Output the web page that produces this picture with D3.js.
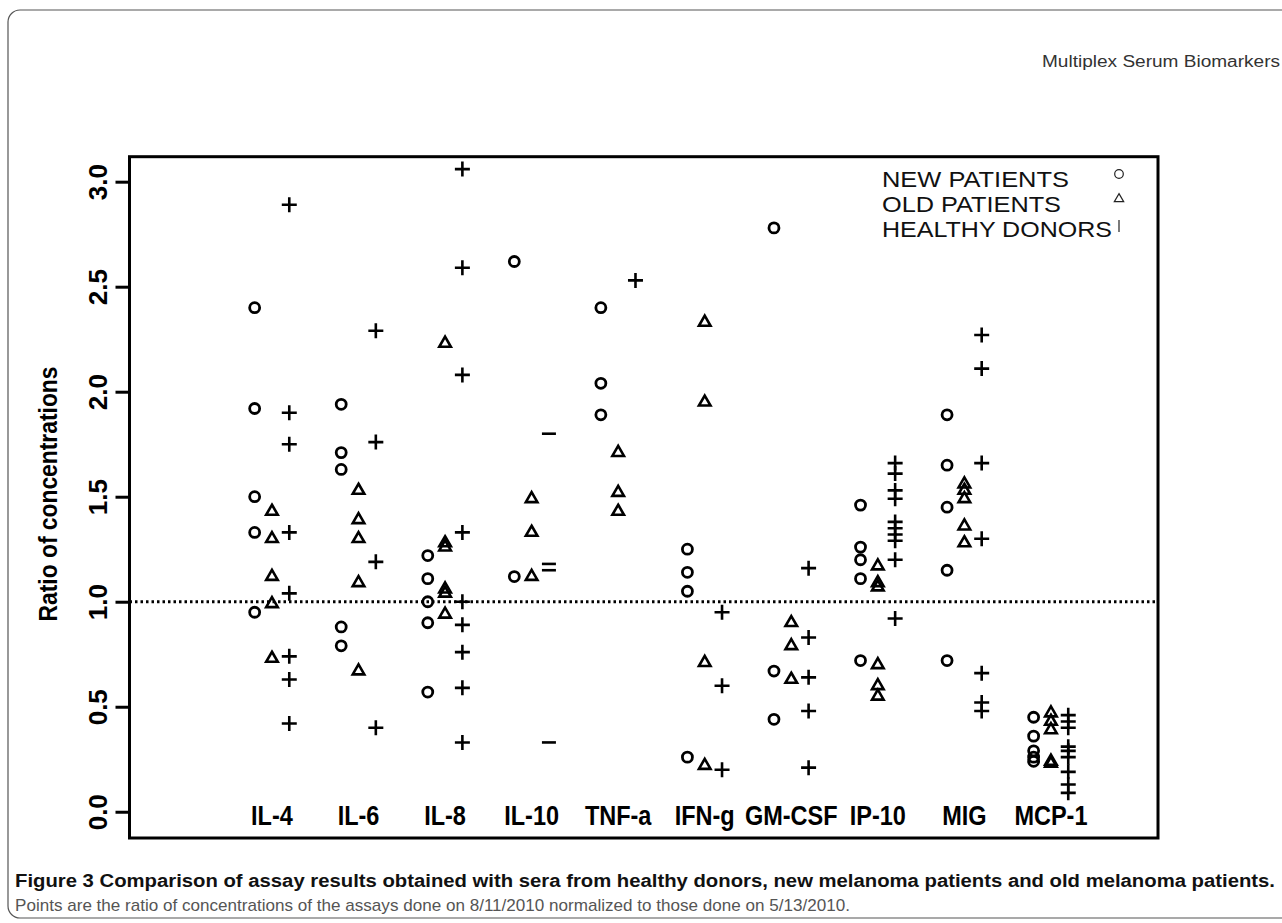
<!DOCTYPE html>
<html>
<head>
<meta charset="utf-8">
<script src="https://cdn.jsdelivr.net/npm/d3@7"></script>
<style>
  body { margin: 0; background: #fff; }
  svg { display: block; font-family: "Liberation Sans", Arial, sans-serif; }
</style>
</head>
<body>
<div id="chart"></div>
<script>
// categories and the three series (one small array of values per category)
const categories = ["IL-4", "IL-6", "IL-8", "IL-10", "TNF-a", "IFN-g", "GM-CSF", "IP-10", "MIG", "MCP-1"];

const newPatients = [
  [2.40, 1.92, 1.50, 1.33, 0.95],
  [1.94, 1.71, 1.63, 0.88, 0.79],
  [1.22, 1.11, 1.00, 0.90, 0.57],
  [2.62, 1.12],
  [2.40, 2.04, 1.89],
  [1.25, 1.14, 1.05, 0.26],
  [2.78, 0.67, 0.44],
  [1.46, 1.26, 1.20, 1.11, 0.72],
  [1.89, 1.65, 1.45, 1.15, 0.72],
  [0.45, 0.36, 0.29, 0.26, 0.24]
];

const oldPatients = [
  [1.43, 1.30, 1.12, 0.99, 0.73],
  [1.53, 1.39, 1.30, 1.09, 0.67],
  [2.23, 1.28, 1.26, 1.06, 1.04, 0.94],
  [1.49, 1.33, 1.12],
  [1.71, 1.52, 1.43],
  [2.33, 1.95, 0.71, 0.22],
  [0.90, 0.79, 0.63],
  [1.17, 1.09, 1.07, 0.70, 0.60, 0.55],
  [1.56, 1.53, 1.49, 1.36, 1.28],
  [0.47, 0.43, 0.39, 0.24, 0.23]
];

const healthyDonors = [
  [2.89, 1.90, 1.75, 1.33, 1.04, 0.74, 0.63, 0.42],
  [2.29, 1.76, 1.19, 0.40],
  [3.06, 2.59, 2.08, 1.33, 1.00, 0.89, 0.76, 0.59, 0.33],
  [1.80, 1.18, 1.15, 0.33],
  [2.53],
  [0.95, 0.60, 0.20],
  [1.16, 0.83, 0.64, 0.48, 0.21],
  [1.66, 1.61, 1.53, 1.49, 1.38, 1.35, 1.32, 1.29, 1.20, 0.92],
  [2.27, 2.11, 1.66, 1.30, 0.66, 0.52, 0.48],
  [0.46, 0.43, 0.40, 0.31, 0.29, 0.26, 0.19, 0.13, 0.09]
];

const yTicks = [0, 0.5, 1, 1.5, 2, 2.5, 3];
const legendLabels = ["NEW PATIENTS", "OLD PATIENTS", "HEALTHY DONORS"];

const W = 1282, H = 923;
const plot = {left: 129.5, right: 1158, top: 156.7, bottom: 838};

const svg = d3.select("#chart")
  .append("svg")
    .attr("width", W)
    .attr("height", H);

// page frame + running header
svg.append("rect")
  .attr("x", 8).attr("y", 10)
  .attr("width", 1320).attr("height", 908)
  .attr("rx", 12)
  .attr("fill", "none")
  .attr("stroke", "#555")
  .attr("stroke-width", 1.2);

svg.append("text")
  .attr("x", 1280).attr("y", 67)
  .attr("text-anchor", "end")
  .attr("font-size", 16)
  .attr("fill", "#333")
  .attr("textLength", 238)
  .attr("lengthAdjust", "spacingAndGlyphs")
  .text("Multiplex Serum Biomarkers");

// scales: categories sit at 1..10
const x = d3.scaleLinear()
  .domain([-0.646, 11.237])
  .range([plot.left, plot.right]);

const y = d3.scaleLinear()
  .domain([-0.125, 3.119])
  .range([plot.bottom, plot.top]);

// y axis
const yAxis = svg.append("g")
  .attr("transform", `translate(${plot.left},0)`)
  .call(d3.axisLeft(y).tickValues(yTicks).tickSize(14).tickFormat(d3.format(".1f")));
yAxis.select(".domain").remove();
yAxis.selectAll(".tick line").attr("stroke", "#000").attr("stroke-width", 3);
yAxis.selectAll(".tick text")
  .attr("transform", "rotate(-90)")
  .attr("x", 0).attr("y", -22.5).attr("dy", 0)
  .attr("text-anchor", "middle")
  .attr("font-size", 26)
  .attr("font-weight", "bold")
  .attr("fill", "#000")
  .attr("font-family", "Liberation Sans, Arial, sans-serif");

// y axis title
svg.append("text")
  .attr("transform", `translate(57,${494}) rotate(-90)`)
  .attr("text-anchor", "middle")
  .attr("font-size", 26)
  .attr("font-weight", "bold")
  .attr("textLength", 255)
  .attr("lengthAdjust", "spacingAndGlyphs")
  .text("Ratio of concentrations");

// reference line at ratio 1
svg.append("line")
  .attr("x1", plot.left).attr("x2", plot.right)
  .attr("y1", y(1)).attr("y2", y(1))
  .attr("stroke", "#000")
  .attr("stroke-width", 3)
  .attr("stroke-dasharray", "2.5,3");

// category labels inside the plot
svg.append("g").selectAll("text")
  .data(categories)
  .join("text")
    .attr("x", (d, i) => x(i + 1))
    .attr("y", 825)
    .attr("text-anchor", "middle")
    .attr("font-size", 27)
    .attr("font-weight", "bold")
    .text(d => d)
    .each(function() {
      const len = this.getComputedTextLength();
      d3.select(this).attr("textLength", len * 0.87).attr("lengthAdjust", "spacingAndGlyphs");
    });

// flatten series into points
function points(series, offset) {
  const out = [];
  series.forEach((vals, i) => vals.forEach(v => out.push({cat: categories[i], i: i, v: v, off: offset})));
  return out;
}

const marks = svg.append("g").attr("fill", "none").attr("stroke", "#000");

// new patients: circles
marks.selectAll("circle.new")
  .data(points(newPatients, -0.2))
  .join("circle")
    .attr("class", "new")
    .attr("cx", d => x(d.i + 1 + d.off))
    .attr("cy", d => y(d.v))
    .attr("r", 5)
    .attr("stroke-width", 2.8);

// old patients: triangles
marks.selectAll("path.old")
  .data(points(oldPatients, 0))
  .join("path")
    .attr("class", "old")
    .attr("transform", d => `translate(${x(d.i + 1 + d.off)},${y(d.v)})`)
    .attr("d", d3.symbol(d3.symbolTriangle, 58))
    .attr("stroke-width", 2.6);

// healthy donors: plus signs (IL-10 ones came out as bare dashes in the figure)
marks.selectAll("path.healthy")
  .data(points(healthyDonors, 0.2))
  .join("path")
    .attr("class", "healthy")
    .attr("transform", d => `translate(${x(d.i + 1 + d.off)},${y(d.v)})`)
    .attr("d", d => d.cat === "IL-10" ? "M-7,0H7" : "M-7.5,0H7.5M0,-7.5V7.5")
    .attr("stroke-width", 2.6);

// plot box
svg.append("rect")
  .attr("x", plot.left).attr("y", plot.top)
  .attr("width", plot.right - plot.left)
  .attr("height", plot.bottom - plot.top)
  .attr("fill", "none")
  .attr("stroke", "#000")
  .attr("stroke-width", 3);

// legend
const legendWidths = [187, 179, 230];
const legend = svg.append("g").attr("transform", "translate(882,187)");
legend.selectAll("text")
  .data(legendLabels)
  .join("text")
    .attr("x", 0)
    .attr("y", (d, i) => i * 25)
    .attr("font-size", 21.6)
    .attr("fill", "#111")
    .attr("textLength", (d, i) => legendWidths[i])
    .attr("lengthAdjust", "spacingAndGlyphs")
    .text(d => d);

legend.append("circle")
  .attr("cx", 237).attr("cy", -13).attr("r", 4.3)
  .attr("fill", "none").attr("stroke", "#222").attr("stroke-width", 1.2);
legend.append("path")
  .attr("transform", "translate(237,12)")
  .attr("d", d3.symbol(d3.symbolTriangle, 38))
  .attr("fill", "none").attr("stroke", "#222").attr("stroke-width", 1.2);
legend.append("line")
  .attr("x1", 237).attr("x2", 237).attr("y1", 33).attr("y2", 45)
  .attr("stroke", "#222").attr("stroke-width", 1.2);

// caption
svg.append("text")
  .attr("x", 15).attr("y", 887)
  .attr("font-size", 18)
  .attr("font-weight", "bold")
  .attr("fill", "#111")
  .attr("textLength", 1260)
  .attr("lengthAdjust", "spacingAndGlyphs")
  .text("Figure 3 Comparison of assay results obtained with sera from healthy donors, new melanoma patients and old melanoma patients.");

svg.append("text")
  .attr("x", 15).attr("y", 911)
  .attr("font-size", 17)
  .attr("fill", "#555")
  .attr("textLength", 835)
  .attr("lengthAdjust", "spacingAndGlyphs")
  .text("Points are the ratio of concentrations of the assays done on 8/11/2010 normalized to those done on 5/13/2010.");
</script>
</body>
</html>
